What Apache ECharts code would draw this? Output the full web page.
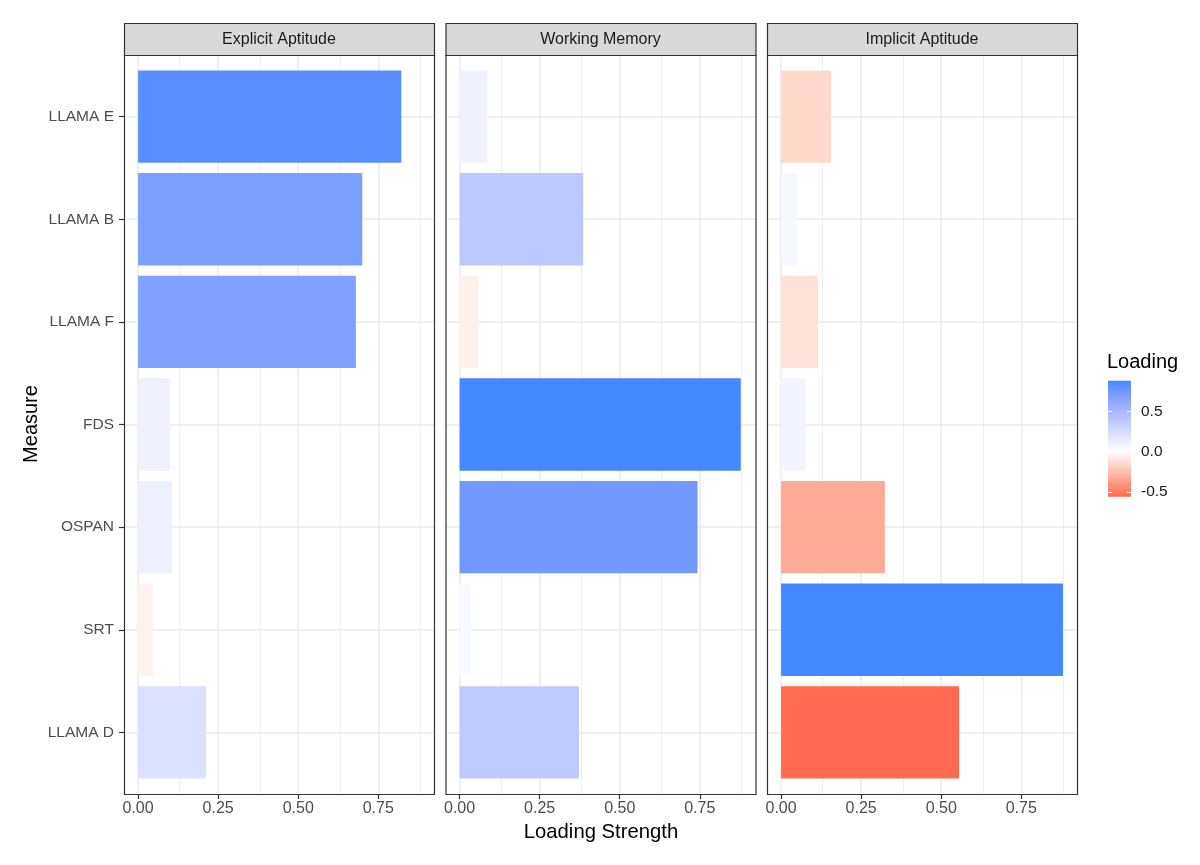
<!DOCTYPE html>
<html>
<head>
<meta charset="utf-8">
<script src="https://cdn.jsdelivr.net/npm/echarts@6/dist/echarts.min.js"></script>
<style>html,body{margin:0;padding:0;background:#fff;}#chart{width:1200px;height:865px;}</style>
</head>
<body>
<div id="chart"></div>
<script>
// ---------- data ----------
const measures = ['LLAMA E', 'LLAMA B', 'LLAMA F', 'FDS', 'OSPAN', 'SRT', 'LLAMA D'];
const factors = ['Explicit Aptitude', 'Working Memory', 'Implicit Aptitude'];
const explicitAptitude = [0.822, 0.700, 0.680, 0.100, 0.106, -0.047, 0.212];
const workingMemory   = [0.087, 0.386, -0.058, 0.878, 0.743, 0.036, 0.373];
const implicitAptitude = [-0.156, 0.050, -0.115, 0.078, -0.324, 0.880, -0.556];
const xTickValues = [0, 0.25, 0.5, 0.75];
const xMinorValues = [0.125, 0.375, 0.625, 0.875];
const legendTickValues = [-0.5, 0, 0.5];
const xAxisTitle = 'Loading Strength';
const yAxisTitle = 'Measure';
const legendTitle = 'Loading';

// ---------- colour scale (Lab interpolation, white midpoint) ----------
const panelsData = [explicitAptitude, workingMemory, implicitAptitude];
const allVals = panelsData.flat();
const LMIN = Math.min(...allVals), LMAX = Math.max(...allVals);
const HIGH = [68, 136, 255], LOW = [255, 106, 80], MID = [255, 255, 255];
function toLin(c){c/=255;return c<=0.04045?c/12.92:Math.pow((c+0.055)/1.055,2.4);}
function toS(c){c=c<=0.0031308?12.92*c:1.055*Math.pow(c,1/2.4)-0.055;return Math.round(Math.max(0,Math.min(1,c))*255);}
function f(t){return t>0.008856?Math.cbrt(t):7.787*t+16/116;}
function fi(t){const t3=t*t*t;return t3>0.008856?t3:(t-16/116)/7.787;}
function rgb2lab(c){const r=toLin(c[0]),g=toLin(c[1]),b=toLin(c[2]);
  const X=(0.4124*r+0.3576*g+0.1805*b)/0.95047,Y=0.2126*r+0.7152*g+0.0722*b,Z=(0.0193*r+0.1192*g+0.9505*b)/1.08883;
  const fx=f(X),fy=f(Y),fz=f(Z);return [116*fy-16,500*(fx-fy),200*(fy-fz)];}
function lab2rgb(l){const fy=(l[0]+16)/116,fx=fy+l[1]/500,fz=fy-l[2]/200;
  const X=fi(fx)*0.95047,Y=fi(fy),Z=fi(fz)*1.08883;
  const r=3.2406*X-1.5372*Y-0.4986*Z,g=-0.9689*X+1.8758*Y+0.0415*Z,b=0.0557*X-0.2040*Y+1.0570*Z;
  return 'rgb('+toS(r)+','+toS(g)+','+toS(b)+')';}
const labH=rgb2lab(HIGH),labL=rgb2lab(LOW),labM=rgb2lab(MID);
function colorFor(v){
  const end = v>=0?labH:labL; const t = v>=0? Math.min(1,v/LMAX) : Math.min(1,v/LMIN);
  return lab2rgb([labM[0]+(end[0]-labM[0])*t, labM[1]+(end[1]-labM[1])*t, labM[2]+(end[2]-labM[2])*t]);
}

// ---------- layout ----------
const panelLeft = [124, 445.5, 767], panelW = 310, panelTop = 55, panelH = 739;
const stripTop = 23, stripH = 32;
const XMIN = -0.044, XMAX = 0.924;
const YMIN = 0.4, YMAX = 7.6;
const catPos = measures.map((m, i) => i + 1);
const fontFam = '"Liberation Sans", Arial, Helvetica, sans-serif';

const grids = [], xAxes = [], yAxes = [], series = [], graphics = [];
panelsData.forEach((vals, p) => {
  grids.push({left: panelLeft[p], top: panelTop, width: panelW, height: panelH, show: true, backgroundColor: '#fff', borderWidth: 0});
  xAxes.push({
    gridIndex: p, type: 'value', min: XMIN, max: XMAX, position: 'bottom',
    axisLine: {show: false, onZero: false},
    axisTick: {show: true, customValues: xTickValues, length: 5, lineStyle: {color: '#333', width: 1.2}},
    axisLabel: {show: true, customValues: xTickValues, formatter: v => v.toFixed(2), color: '#4D4D4D', fontSize: 16, fontFamily: fontFam, margin: 7},
    splitLine: {show: false}
  });
  yAxes.push({
    gridIndex: p, type: 'value', min: YMIN, max: YMAX, inverse: true, position: 'left',
    axisLine: {show: false, onZero: false},
    axisTick: {show: p === 0, customValues: catPos, length: 5, lineStyle: {color: '#333', width: 1.2}},
    axisLabel: {show: p === 0, customValues: catPos, formatter: v => measures[Math.round(v) - 1], color: '#4D4D4D', fontSize: 15.5, fontFamily: fontFam, margin: 10},
    splitLine: {show: false}
  });
  // grid lines
  series.push({
    type: 'line', xAxisIndex: p, yAxisIndex: p, data: [], z: 1, silent: true, animation: false,
    markLine: {
      silent: true, animation: false, z: 1, symbol: ['none', 'none'], label: {show: false},
      lineStyle: {color: '#EBEBEB', type: 'solid', width: 1.6},
      emphasis: {disabled: true},
      data: [
        ...xMinorValues.map(v => ({xAxis: v, lineStyle: {width: 0.8, color: '#EBEBEB', type: 'solid'}})),
        ...xTickValues.map(v => ({xAxis: v, lineStyle: {width: 1.6, color: '#EBEBEB', type: 'solid'}})),
        ...catPos.map(v => ({yAxis: v, lineStyle: {width: 1.6, color: '#EBEBEB', type: 'solid'}}))
      ]
    }
  });
  // bars
  series.push({
    type: 'custom', xAxisIndex: p, yAxisIndex: p, z: 2, animation: false,
    encode: {x: 0, y: 1},
    data: vals.map((v, i) => [Math.abs(v), catPos[i], v]),
    renderItem: function (params, api) {
      const v = api.value(0), y = api.value(1), s = api.value(2);
      const a = api.coord([0, y - 0.45]), b = api.coord([v, y + 0.45]);
      return {type: 'rect', shape: {x: a[0], y: Math.min(a[1], b[1]), width: b[0] - a[0], height: Math.abs(b[1] - a[1])},
        style: {fill: colorFor(s)}};
    }
  });
  // panel border + strip
  graphics.push({type: 'rect', z: 100, silent: true, shape: {x: panelLeft[p] + 0.5, y: panelTop + 0.5, width: panelW, height: panelH},
    style: {fill: null, stroke: '#333', lineWidth: 1.2}});
  graphics.push({type: 'rect', z: 100, silent: true, shape: {x: panelLeft[p] + 0.5, y: stripTop + 0.5, width: panelW, height: stripH},
    style: {fill: '#D9D9D9', stroke: '#333', lineWidth: 1.2}});
  graphics.push({type: 'text', z: 101, silent: true, x: panelLeft[p] + panelW / 2, y: stripTop + stripH / 2 + 1,
    style: {text: factors[p], fill: '#1A1A1A', font: '16px ' + fontFam, align: 'center', verticalAlign: 'middle'}});
});

// legend colour bar as its own grid
grids.push({left: 1108, top: 380.7, width: 23, height: 116});
xAxes.push({gridIndex: 3, type: 'value', min: 0, max: 1, show: false});
yAxes.push({gridIndex: 3, type: 'value', min: LMIN, max: LMAX, position: 'right', z: 10,
  axisLine: {show: false, onZero: false},
  axisTick: {show: true, inside: true, customValues: legendTickValues, length: 4, lineStyle: {color: '#fff', width: 1}},
  axisLabel: {show: true, customValues: legendTickValues, formatter: v => v.toFixed(1), color: '#1A1A1A', fontSize: 15.5, fontFamily: fontFam, margin: 10},
  splitLine: {show: false}});
yAxes.push({gridIndex: 3, type: 'value', min: LMIN, max: LMAX, position: 'left', z: 10,
  axisLine: {show: false, onZero: false},
  axisTick: {show: true, inside: true, customValues: legendTickValues, length: 4, lineStyle: {color: '#fff', width: 1}},
  axisLabel: {show: false}, splitLine: {show: false}});
const NSTOP = 60;
const gradStops = [];
for (let i = 0; i <= NSTOP; i++) {
  const t = i / NSTOP;
  gradStops.push({offset: t, color: colorFor(LMAX - t * (LMAX - LMIN))});
}
series.push({
  type: 'custom', xAxisIndex: 3, yAxisIndex: 3, z: 2, animation: false, silent: true,
  data: [[0, LMAX]],
  renderItem: function (params, api) {
    const a = api.coord([0, LMAX]), b = api.coord([1, LMIN]);
    return {type: 'rect', shape: {x: a[0], y: a[1], width: b[0] - a[0], height: b[1] - a[1]},
      style: {fill: new echarts.graphic.LinearGradient(0, 0, 0, 1, gradStops)}};
  }
});

// titles
graphics.push({type: 'text', silent: true, x: 601, y: 832,
  style: {text: xAxisTitle, fill: '#000', font: '20.3px ' + fontFam, align: 'center', verticalAlign: 'middle'}});
graphics.push({type: 'text', silent: true, x: 31, y: 424, rotation: Math.PI / 2,
  style: {text: yAxisTitle, fill: '#000', font: '20px ' + fontFam, align: 'center', verticalAlign: 'middle'}});
graphics.push({type: 'text', silent: true, x: 1107, y: 362,
  style: {text: legendTitle, fill: '#000', font: '20px ' + fontFam, align: 'left', verticalAlign: 'middle'}});

const chart = echarts.init(document.getElementById('chart'), null, {renderer: 'canvas'});
chart.setOption({
  animation: false,
  backgroundColor: '#fff',
  grid: grids, xAxis: xAxes, yAxis: yAxes, series: series, graphic: graphics
});
</script>
</body>
</html>
